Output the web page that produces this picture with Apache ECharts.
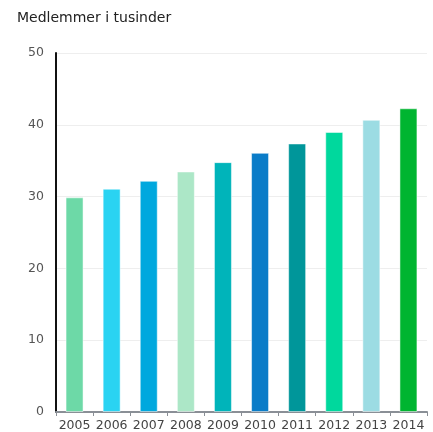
<!DOCTYPE html>
<html>
<head>
<meta charset="utf-8">
<script src="https://cdn.jsdelivr.net/npm/echarts@6/dist/echarts.min.js"></script>
<style>
  html, body { margin: 0; padding: 0; background: #fff; }
  #chart { width: 433px; height: 432px; }
</style>
</head>
<body>
<div id="chart"></div>
<script>
var years = ['2005', '2006', '2007', '2008', '2009', '2010', '2011', '2012', '2013', '2014'];
var members = [29.9, 31.1, 32.2, 33.5, 34.8, 36.1, 37.4, 39.0, 40.7, 42.3];
var barColors = ['#6dd9a7', '#2ad3f2', '#00a8de', '#ace7c7', '#00b4ba', '#0a7cc8', '#00969a', '#00d89d', '#9cdce3', '#00b530'];

var myChart = echarts.init(document.getElementById('chart'));
var option = {
  animation: false,
  textStyle: { fontFamily: 'DejaVu Sans' },
  title: {
    text: 'Medlemmer i tusinder',
    left: 12,
    top: 6,
    textStyle: { fontSize: 14, fontWeight: 'normal', color: '#222', fontFamily: 'DejaVu Sans' }
  },
  grid: { left: 56, right: 6, top: 53, bottom: 18, containLabel: false },
  xAxis: {
    type: 'category',
    data: years,
    axisLine: { lineStyle: { color: '#8a8f96', width: 2 } },
    axisTick: { show: true, length: 4, lineStyle: { color: '#8a8f96' } },
    axisLabel: { color: '#444', fontSize: 12.5, margin: 7, interval: 0, hideOverlap: false }
  },
  yAxis: {
    type: 'value',
    min: 0,
    max: 50,
    interval: 10,
    axisLine: { show: true, lineStyle: { color: '#111', width: 2 } },
    axisTick: { show: false },
    axisLabel: { color: '#555', fontSize: 12.5, margin: 12 },
    splitLine: { lineStyle: { color: '#eeeeee' } }
  },
  series: [
    {
      type: 'bar',
      barWidth: 18,
      data: members.map(function (v, i) {
        return {
          value: v,
          itemStyle: { color: barColors[i], borderColor: 'rgba(255,255,255,0.5)', borderWidth: 1 }
        };
      })
    }
  ]
};
myChart.setOption(option);
</script>
</body>
</html>
